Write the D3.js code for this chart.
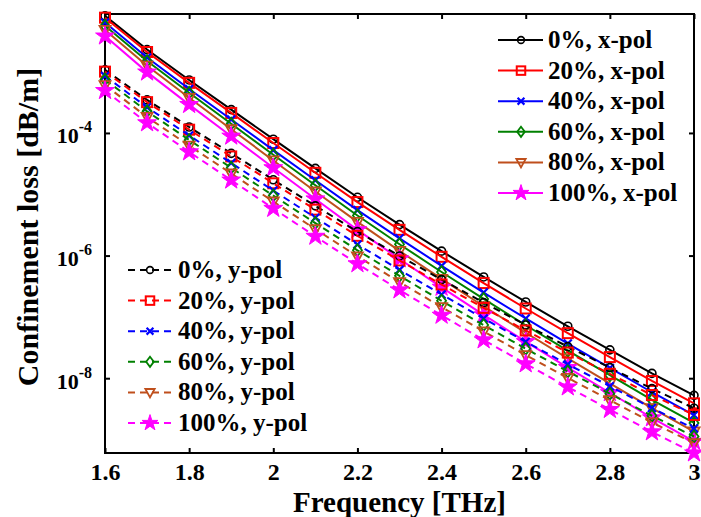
<!DOCTYPE html>
<html>
<head>
<meta charset="utf-8">
<script src="https://cdn.jsdelivr.net/npm/d3@7"></script>
<style>
  html, body { margin: 0; padding: 0; background: #fff; }
  svg { display: block; font-family: "Liberation Serif", "Times New Roman", serif; font-weight: bold; }
</style>
</head>
<body>
<svg id="chart" width="701" height="517"></svg>
<script>
// ---- data (confinement loss in dB/m) ----
const freq = [1.6, 1.7, 1.8, 1.9, 2.0, 2.1, 2.2, 2.3, 2.4, 2.5, 2.6, 2.7, 2.8, 2.9, 3.0];

const xPol0   = [8.13e-3, 2.29e-3, 7.31e-4, 2.40e-4, 7.91e-5, 2.64e-5, 8.93e-6, 3.20e-6, 1.18e-6, 4.48e-7, 1.75e-7, 7.03e-8, 2.90e-8, 1.20e-8, 5.25e-9];
const xPol20  = [7.59e-3, 2.09e-3, 6.56e-4, 2.12e-4, 6.85e-5, 2.24e-5, 7.46e-6, 2.63e-6, 9.55e-7, 3.56e-7, 1.37e-7, 5.43e-8, 2.21e-8, 9.02e-9, 3.89e-9];
const xPol40  = [6.31e-3, 1.70e-3, 5.22e-4, 1.66e-4, 5.25e-5, 1.69e-5, 5.51e-6, 1.91e-6, 6.79e-7, 2.49e-7, 9.42e-8, 3.67e-8, 1.47e-8, 5.90e-9, 2.51e-9];
const xPol60  = [5.62e-3, 1.49e-3, 4.52e-4, 1.41e-4, 4.41e-5, 1.40e-5, 4.50e-6, 1.53e-6, 5.40e-7, 1.96e-7, 7.31e-8, 2.81e-8, 1.12e-8, 4.43e-9, 1.86e-9];
const xPol80  = [4.79e-3, 1.25e-3, 3.74e-4, 1.15e-4, 3.56e-5, 1.11e-5, 3.54e-6, 1.19e-6, 4.16e-7, 1.49e-7, 5.51e-8, 2.10e-8, 8.24e-9, 3.24e-9, 1.35e-9];
const xPol100 = [3.80e-3, 9.82e-4, 2.90e-4, 8.85e-5, 2.70e-5, 8.38e-6, 2.63e-6, 8.79e-7, 3.03e-7, 1.08e-7, 3.94e-8, 1.49e-8, 5.79e-9, 2.25e-9, 9.33e-10];

const yPol0   = [1.07e-3, 3.46e-4, 1.25e-4, 4.65e-5, 1.72e-5, 6.47e-6, 2.46e-6, 9.86e-7, 4.06e-7, 1.71e-7, 7.38e-8, 3.27e-8, 1.49e-8, 6.76e-9, 3.24e-9];
const yPol20  = [1.00e-3, 3.18e-4, 1.13e-4, 4.14e-5, 1.51e-5, 5.61e-6, 2.10e-6, 8.32e-7, 3.37e-7, 1.40e-7, 6.00e-8, 2.62e-8, 1.18e-8, 5.31e-9, 2.51e-9];
const yPol40  = [8.51e-4, 2.62e-4, 9.08e-5, 3.24e-5, 1.15e-5, 4.15e-6, 1.52e-6, 5.85e-7, 2.32e-7, 9.42e-8, 3.93e-8, 1.68e-8, 7.41e-9, 3.26e-9, 1.51e-9];
const yPol60  = [7.41e-4, 2.25e-4, 7.69e-5, 2.70e-5, 9.51e-6, 3.39e-6, 1.22e-6, 4.67e-7, 1.83e-7, 7.35e-8, 3.03e-8, 1.29e-8, 5.60e-9, 2.44e-9, 1.12e-9];
const yPol80  = [6.03e-4, 1.82e-4, 6.21e-5, 2.18e-5, 7.62e-6, 2.70e-6, 9.73e-7, 3.70e-7, 1.44e-7, 5.78e-8, 2.38e-8, 1.01e-8, 4.38e-9, 1.90e-9, 8.71e-10];
const yPol100 = [4.90e-4, 1.46e-4, 4.91e-5, 1.70e-5, 5.87e-6, 2.06e-6, 7.33e-7, 2.75e-7, 1.06e-7, 4.21e-8, 1.71e-8, 7.18e-9, 3.08e-9, 1.33e-9, 6.03e-10];

const xTicks = [1.6, 1.8, 2.0, 2.2, 2.4, 2.6, 2.8, 3.0];
const yTicks = [1e-4, 1e-6, 1e-8];
const yTickExps = ["-4", "-6", "-8"];
const xLabel = "Frequency [THz]";
const yLabel = "Confinement loss [dB/m]";

const xLegendLabels = ["0%, x-pol", "20%, x-pol", "40%, x-pol", "60%, x-pol", "80%, x-pol", "100%, x-pol"];
const yLegendLabels = ["0%, y-pol", "20%, y-pol", "40%, y-pol", "60%, y-pol", "80%, y-pol", "100%, y-pol"];
const colors = ["#000000", "#ff0000", "#0000ff", "#008000", "#bf4f1c", "#ff00ff"];
const markers = ["circle", "square", "x", "diamond", "triDown", "star"];

const xSeries = [xPol0, xPol20, xPol40, xPol60, xPol80, xPol100];
const ySeries = [yPol0, yPol20, yPol40, yPol60, yPol80, yPol100];

// ---- layout ----
const L = 105, R = 694, T = 14, B = 453;
const svg = d3.select("#chart");

const x = d3.scaleLinear().domain([1.6, 3.0]).range([L, R]);
const y = d3.scaleLog().domain([Math.pow(10, -9.22), Math.pow(10, -2.06)]).range([B, T]);

// axes
const fmtX = d => String(+d.toFixed(1));
const gB = svg.append("g").attr("transform", `translate(0,${B})`)
  .call(d3.axisBottom(x).tickValues(xTicks).tickSize(-5).tickPadding(10).tickFormat(fmtX));
const gT = svg.append("g").attr("transform", `translate(0,${T})`)
  .call(d3.axisTop(x).tickValues(xTicks).tickSize(-5).tickFormat(""));
const gL = svg.append("g").attr("transform", `translate(${L},0)`)
  .call(d3.axisLeft(y).tickValues(yTicks).tickSize(-5).tickFormat(""));
const gR = svg.append("g").attr("transform", `translate(${R},0)`)
  .call(d3.axisRight(y).tickValues(yTicks).tickSize(-5).tickFormat(""));

[gB, gT, gL, gR].forEach(g => {
  g.attr("font-family", "Liberation Serif");
  g.select(".domain").remove();
  g.selectAll(".tick line").attr("stroke", "#000").attr("stroke-width", 2);
});
gB.selectAll(".tick text").attr("fill", "#000").attr("font-size", 24)
  .attr("font-family", "Liberation Serif").attr("font-weight", "bold");

// y tick labels with superscripts
gL.selectAll(".tick").each(function(d, i) {
  const t = d3.select(this).append("text")
    .attr("x", -13).attr("y", 10)
    .attr("text-anchor", "end")
    .attr("fill", "#000")
    .attr("font-family", "Liberation Serif").attr("font-weight", "bold");
  t.append("tspan").attr("font-size", 22).text("10");
  t.append("tspan").attr("font-size", 16).attr("dy", -11).text(yTickExps[i]);
});

// frame
svg.append("rect").attr("x", L).attr("y", T).attr("width", R - L).attr("height", B - T)
  .attr("fill", "none").attr("stroke", "#000").attr("stroke-width", 2);

// axis titles
svg.append("text").attr("x", (L + R) / 2).attr("y", 512).attr("text-anchor", "middle")
  .attr("font-size", 29).attr("fill", "#000").text(xLabel);
svg.append("text").attr("transform", "translate(38,227) rotate(-90)").attr("text-anchor", "middle")
  .attr("font-size", 30).attr("fill", "#000").text(yLabel);

// marker drawing
function drawMarker(g, type, color, cx, cy, s) {
  s = s || 1;
  if (type === "circle") {
    g.append("circle").attr("cx", cx).attr("cy", cy).attr("r", 4 * s)
      .attr("fill", "none").attr("stroke", color).attr("stroke-width", 1.6);
  } else if (type === "square") {
    g.append("rect").attr("x", cx - 5 * s).attr("y", cy - 5 * s).attr("width", 10 * s).attr("height", 10 * s)
      .attr("fill", "none").attr("stroke", color).attr("stroke-width", 2);
  } else if (type === "x") {
    const a = 4 * s;
    g.append("path").attr("d", `M${cx - a},${cy - a}L${cx + a},${cy + a}M${cx - a},${cy + a}L${cx + a},${cy - a}`)
      .attr("stroke", color).attr("stroke-width", 2.2).attr("fill", "none");
  } else if (type === "diamond") {
    const w = 4.5 * s, h = 6 * s;
    g.append("path").attr("d", `M${cx},${cy - h}L${cx + w},${cy}L${cx},${cy + h}L${cx - w},${cy}Z`)
      .attr("stroke", color).attr("stroke-width", 1.8).attr("fill", "none");
  } else if (type === "triDown") {
    const w = 5.5 * s;
    g.append("path").attr("d", `M${cx - w},${cy - 4 * s}L${cx + w},${cy - 4 * s}L${cx},${cy + 6 * s}Z`)
      .attr("stroke", color).attr("stroke-width", 1.8).attr("fill", "none");
  } else if (type === "star") {
    g.append("path").attr("transform", `translate(${cx},${cy})`)
      .attr("d", d3.symbol().type(d3.symbolStar).size(110 * s * s)())
      .attr("fill", color).attr("stroke", color).attr("stroke-width", 1);
  }
}

const line = d3.line().x((d, i) => x(freq[i])).y(d => y(d));
const plotG = svg.append("g");

function drawSeries(values, color, marker, dashed) {
  const g = plotG.append("g");
  g.append("path").datum(values).attr("d", line)
    .attr("fill", "none").attr("stroke", color).attr("stroke-width", 2)
    .attr("stroke-dasharray", dashed ? "7,5" : null);
  values.forEach((v, i) => drawMarker(g, marker, color, x(freq[i]), y(v)));
}

xSeries.forEach((vals, i) => drawSeries(vals, colors[i], markers[i], false));
ySeries.forEach((vals, i) => drawSeries(vals, colors[i], markers[i], true));

// legends
function drawLegend(labels, x0, x1, mx, tx, y0, dy, dashed) {
  const g = svg.append("g");
  labels.forEach((lab, i) => {
    const yy = y0 + i * dy;
    g.append("line").attr("x1", x0).attr("x2", x1).attr("y1", yy).attr("y2", yy)
      .attr("stroke", colors[i]).attr("stroke-width", 2)
      .attr("stroke-dasharray", dashed ? "7,5" : null);
    drawMarker(g, markers[i], colors[i], mx, yy, 0.85);
    g.append("text").attr("x", tx).attr("y", yy + 8).attr("font-size", 25).attr("fill", "#000").text(lab);
  });
}
drawLegend(xLegendLabels, 498, 543, 521, 548, 40, 30.6, false);
drawLegend(yLegendLabels, 128, 171, 150, 178, 270, 30.6, true);
</script>
</body>
</html>
